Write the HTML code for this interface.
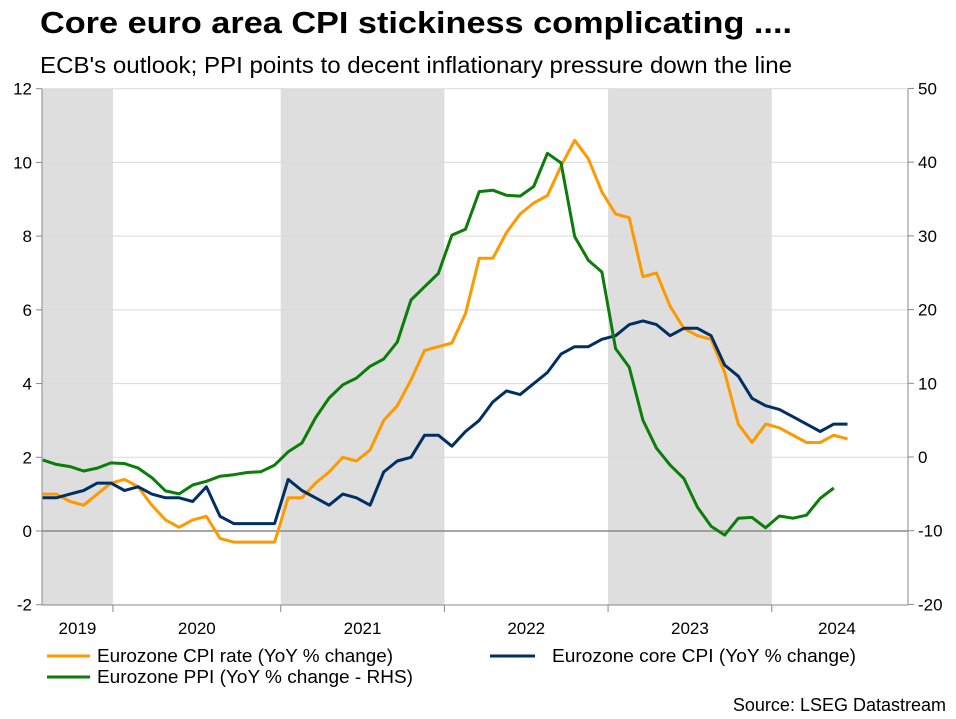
<!DOCTYPE html>
<html><head><meta charset="utf-8"><style>
body{margin:0;background:#fff;font-family:"Liberation Sans",Arial,sans-serif;}
svg text{font-family:"Liberation Sans",Arial,sans-serif;}
</style></head><body>
<svg id="c" width="956" height="714" viewBox="0 0 956 714">
<text x="40" y="33" font-size="31" font-weight="bold" fill="#000" textLength="752" lengthAdjust="spacingAndGlyphs">Core euro area CPI stickiness complicating ....</text>
<text x="40" y="73" font-size="23" fill="#000" textLength="752" lengthAdjust="spacingAndGlyphs">ECB's outlook; PPI points to decent inflationary pressure down the line</text>
<g id="bands"></g><g id="grid"></g><g id="axes"></g><g id="series"></g>
<g>
<line x1="47" y1="656" x2="90" y2="656" stroke="#ff9900" stroke-width="3"/>
<text x="97" y="662" font-size="18" textLength="296" lengthAdjust="spacingAndGlyphs">Eurozone CPI rate (YoY % change)</text>
<line x1="490" y1="656" x2="535" y2="656" stroke="#002f63" stroke-width="3"/>
<text x="552" y="662" font-size="18" textLength="304" lengthAdjust="spacingAndGlyphs">Eurozone core CPI (YoY % change)</text>
<line x1="47" y1="677" x2="90" y2="677" stroke="#0a7d0a" stroke-width="3"/>
<text x="97" y="683" font-size="18" textLength="316" lengthAdjust="spacingAndGlyphs">Eurozone PPI (YoY % change - RHS)</text>
</g>
<text x="946" y="711" font-size="18" text-anchor="end">Source: LSEG Datastream</text>
</svg>
<script>
const years=["2019","2020","2021","2022","2023","2024"];
const yearStartIdx=[-6,6,18,30,42,54];
const shadedYears=[0,2,4];
const leftTicks=[-2,0,2,4,6,8,10,12];
const rightTicks=[-20,-10,0,10,20,30,40,50];
const cpi=[1.0,1.0,0.8,0.7,1.0,1.3,1.4,1.2,0.7,0.3,0.1,0.3,0.4,-0.2,-0.3,-0.3,-0.3,-0.3,0.9,0.9,1.3,1.6,2.0,1.9,2.2,3.0,3.4,4.1,4.9,5.0,5.1,5.9,7.4,7.4,8.1,8.6,8.9,9.1,9.9,10.6,10.1,9.2,8.6,8.5,6.9,7.0,6.1,5.5,5.3,5.2,4.3,2.9,2.4,2.9,2.8,2.6,2.4,2.4,2.6,2.5];
const core=[0.9,0.9,1.0,1.1,1.3,1.3,1.1,1.2,1.0,0.9,0.9,0.8,1.2,0.4,0.2,0.2,0.2,0.2,1.4,1.1,0.9,0.7,1.0,0.9,0.7,1.6,1.9,2.0,2.6,2.6,2.3,2.7,3.0,3.5,3.8,3.7,4.0,4.3,4.8,5.0,5.0,5.2,5.3,5.6,5.7,5.6,5.3,5.5,5.5,5.3,4.5,4.2,3.6,3.4,3.3,3.1,2.9,2.7,2.9,2.9];
const ppi=[-0.4,-1.0,-1.3,-1.9,-1.5,-0.8,-0.9,-1.5,-2.8,-4.6,-5.0,-3.8,-3.3,-2.6,-2.4,-2.1,-2.0,-1.1,0.7,1.9,5.3,8.0,9.8,10.7,12.3,13.3,15.6,21.3,23.1,24.9,30.1,30.9,36.0,36.2,35.5,35.4,36.7,41.2,39.9,29.9,26.7,25.1,14.7,12.2,5.0,1.2,-1.1,-2.9,-6.8,-9.4,-10.6,-8.3,-8.2,-9.6,-8.0,-8.3,-7.9,-5.6,-4.2];
const L=42,R=908,T=89,B=605;
const x=i=>42.7+i*13.64;
const yl=v=>531-(v)*(B-T)/14;
const yr=v=>457-(v)*(B-T)/70;
const NS="http://www.w3.org/2000/svg";
function mk(tag,attrs,parent){const e=document.createElementNS(NS,tag);for(const k in attrs)e.setAttribute(k,attrs[k]);document.getElementById(parent).appendChild(e);return e;}
const bound=i=>Math.max(L,Math.min(R,x(yearStartIdx[i]-(i===1?0.85:0.55))));
shadedYears.forEach(i=>{const x0=bound(i),x1=bound(i+1);
const r=mk('rect',{x:x0,y:T,width:x1-x0,height:B-T,fill:'#dedede'},'bands');

});
leftTicks.forEach(v=>{const y=yl(v);
if(v!==-2&&v!==0){const g=mk('line',{x1:L,x2:R,y1:y,y2:y,stroke:'#d9d9d9','stroke-width':1},'grid');

}
mk('line',{x1:L-6,x2:L,y1:y,y2:y,stroke:'#888'},'axes');
const t=mk('text',{x:L-10,y:y+6,'font-size':17,'text-anchor':'end'},'axes');t.textContent=v;

});
rightTicks.forEach(v=>{const y=yr(v);
mk('line',{x1:R,x2:R+6,y1:y,y2:y,stroke:'#888'},'axes');
const t=mk('text',{x:R+10,y:y+6,'font-size':17},'axes');t.textContent=v;

});
mk('line',{x1:L,x2:R,y1:yl(0),y2:yl(0),stroke:'#888','stroke-width':1.5},'axes');
mk('line',{x1:L,x2:L,y1:T,y2:B,stroke:'#888'},'axes');
mk('line',{x1:R,x2:R,y1:T,y2:B,stroke:'#888'},'axes');
mk('line',{x1:L,x2:R,y1:B,y2:B,stroke:'#888'},'axes');
years.forEach((yy,i)=>{const x0=bound(i),x1=i<years.length-1?bound(i+1):Math.min(R,x(yearStartIdx[i]+9));
if(i>0)mk('line',{x1:x0,x2:x0,y1:B,y2:B+7,stroke:'#888'},'axes');
const t=mk('text',{x:(x0+x1)/2,y:B+29,'font-size':17,'text-anchor':'middle'},'axes');t.textContent=yy;

});
function line(arr,ys,color,name){const p=mk('polyline',{points:arr.map((v,i)=>x(i).toFixed(1)+','+ys(v).toFixed(1)).join(' '),fill:'none',stroke:color,'stroke-width':3,'stroke-linejoin':'round'},'series');

}
line(cpi,yl,'#ff9900','cpi-line');
line(core,yl,'#002f63','core-cpi-line');
line(ppi,yr,'#0a7d0a','ppi-line');
</script>
</body></html>
